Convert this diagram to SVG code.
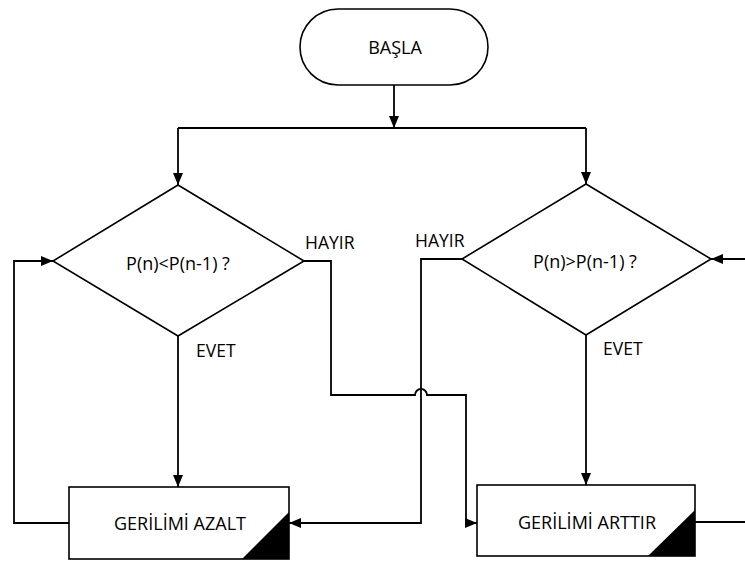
<svg xmlns="http://www.w3.org/2000/svg" width="745" height="561" viewBox="0 0 745 561">
  <style>
    .shape { fill: #fff; stroke: #000; stroke-width: 1.6; }
    .corner { fill: #000; stroke: none; }
    .edge { fill: none; stroke: #000; stroke-width: 1.8; }
    text { font-family: "Open Sans", "Liberation Sans", sans-serif; font-size: 18px; fill: #000; }
    .label { font-size: 17.5px; }
    .mid { text-anchor: middle; }
  </style>
  <defs>
    <marker id="arrow" viewBox="0 0 12 10" refX="12" refY="5" markerWidth="12" markerHeight="10" markerUnits="userSpaceOnUse" orient="auto">
      <path d="M0,0 L12,5 L0,10 Z" fill="#000"/>
    </marker>
  </defs>

  <g id="connectors">
    <!-- start to split bar -->
    <path class="edge" d="M394,85 V128" marker-end="url(#arrow)"/>
    <path class="edge" d="M178,128 H586"/>
    <path class="edge" d="M178,128 V185" marker-end="url(#arrow)"/>
    <path class="edge" d="M586,128 V184" marker-end="url(#arrow)"/>
    <!-- left decision: yes -->
    <path class="edge" d="M178,336 V487" marker-end="url(#arrow)"/>
    <!-- left decision: no, hops over the vertical line -->
    <path class="edge" d="M304,261 H331 V395 H415 A6,6 0 0 1 427,395 H466 V523 H477" marker-end="url(#arrow)"/>
    <!-- decrease loops back -->
    <path class="edge" d="M69,523 H14 V261 H53" marker-end="url(#arrow)"/>
    <!-- right decision: no -->
    <path class="edge" d="M462,259 H421 V523 H289" marker-end="url(#arrow)"/>
    <!-- right decision: yes -->
    <path class="edge" d="M586,335 V485" marker-end="url(#arrow)"/>
    <!-- increase loops back -->
    <path class="edge" d="M695,522 H745"/>
    <path class="edge" d="M745,259 H711" marker-end="url(#arrow)"/>
  </g>

  <g id="start">
    <rect class="shape" x="300" y="9" width="188" height="76" rx="38" ry="38"/>
    <text class="mid" x="395" y="54">BAŞLA</text>
  </g>

  <g id="decision-less">
    <polygon class="shape" points="178,185 304,261 178,336 53,261"/>
    <text class="mid" x="178" y="270">P(n)&lt;P(n-1) ?</text>
    <text class="label" x="305" y="249">HAYIR</text>
    <text class="label" x="196" y="357">EVET</text>
  </g>

  <g id="decision-greater">
    <polygon class="shape" points="586,184 711,259 586,335 462,259"/>
    <text class="mid" x="585" y="268">P(n)&gt;P(n-1) ?</text>
    <text class="label" x="415" y="247">HAYIR</text>
    <text class="label" x="603" y="355">EVET</text>
  </g>

  <g id="decrease">
    <rect class="shape" x="69" y="487" width="220" height="72"/>
    <polygon class="corner" points="289,512 289,559 242,559"/>
    <text class="mid" x="180" y="530">GERİLİMİ AZALT</text>
  </g>

  <g id="increase">
    <rect class="shape" x="477" y="485" width="218" height="71"/>
    <polygon class="corner" points="695,510 695,556 648,556"/>
    <text class="mid" x="587" y="529">GERİLİMİ ARTTIR</text>
  </g>
</svg>
